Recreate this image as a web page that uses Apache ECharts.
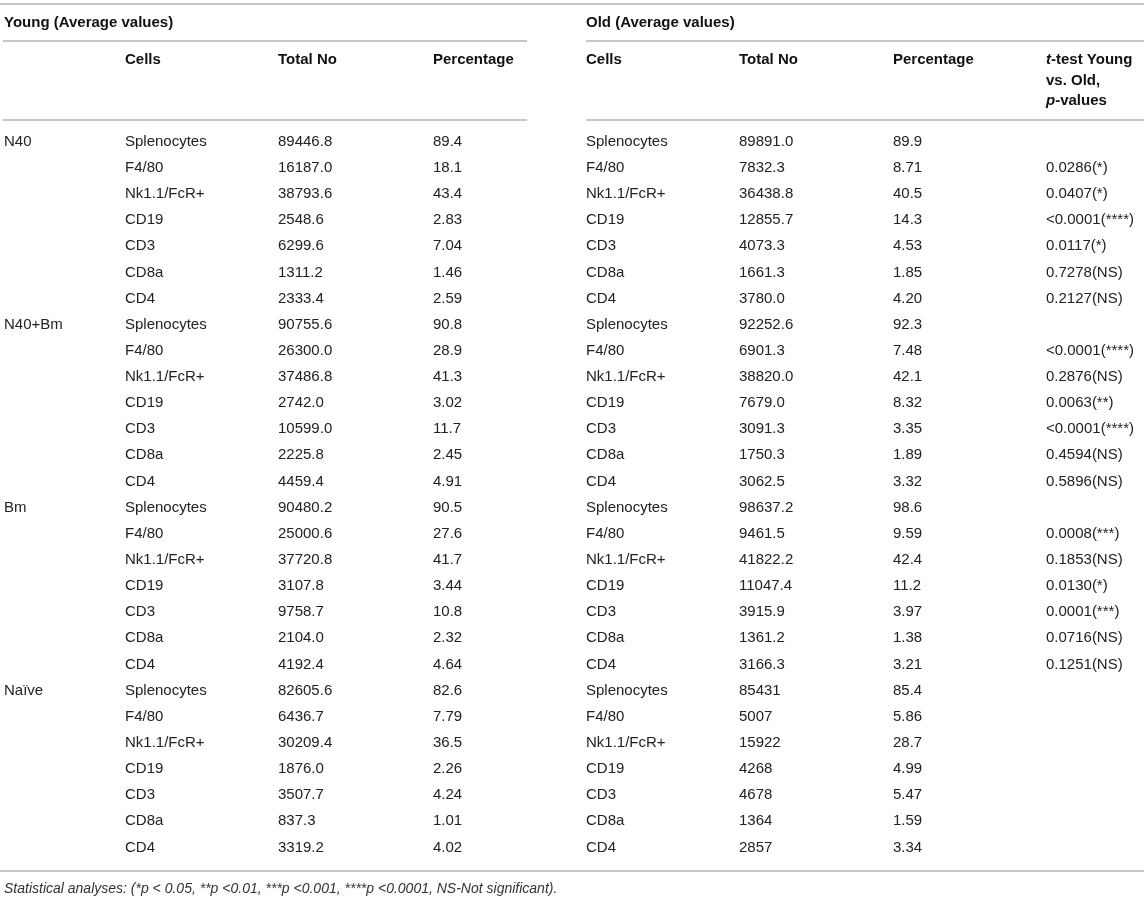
<!DOCTYPE html>
<html lang="en">
  <head>
    <meta charset="UTF-8" />
    <title>Young vs Old splenocyte populations</title>
    <script src="https://cdn.jsdelivr.net/npm/echarts@6/dist/echarts.min.js"></script>
    <style>
      * { margin: 0; padding: 0; box-sizing: border-box; }
      body { background: #fff; overflow: hidden; }
      #chart { width: 1144px; height: 902px; }
    </style>
  </head>
  <body>
    <div id="chart"></div>
    <script>
      // table content
      const groups = ["N40", "N40+Bm", "Bm", "Naïve"];
      const cells = ["Splenocytes", "F4/80", "Nk1.1/FcR+", "CD19", "CD3", "CD8a", "CD4"];

      const youngTotal = [
        "89446.8", "16187.0", "38793.6", "2548.6", "6299.6", "1311.2", "2333.4",
        "90755.6", "26300.0", "37486.8", "2742.0", "10599.0", "2225.8", "4459.4",
        "90480.2", "25000.6", "37720.8", "3107.8", "9758.7", "2104.0", "4192.4",
        "82605.6", "6436.7", "30209.4", "1876.0", "3507.7", "837.3", "3319.2"
      ];
      const youngPct = [
        "89.4", "18.1", "43.4", "2.83", "7.04", "1.46", "2.59",
        "90.8", "28.9", "41.3", "3.02", "11.7", "2.45", "4.91",
        "90.5", "27.6", "41.7", "3.44", "10.8", "2.32", "4.64",
        "82.6", "7.79", "36.5", "2.26", "4.24", "1.01", "4.02"
      ];
      const oldTotal = [
        "89891.0", "7832.3", "36438.8", "12855.7", "4073.3", "1661.3", "3780.0",
        "92252.6", "6901.3", "38820.0", "7679.0", "3091.3", "1750.3", "3062.5",
        "98637.2", "9461.5", "41822.2", "11047.4", "3915.9", "1361.2", "3166.3",
        "85431", "5007", "15922", "4268", "4678", "1364", "2857"
      ];
      const oldPct = [
        "89.9", "8.71", "40.5", "14.3", "4.53", "1.85", "4.20",
        "92.3", "7.48", "42.1", "8.32", "3.35", "1.89", "3.32",
        "98.6", "9.59", "42.4", "11.2", "3.97", "1.38", "3.21",
        "85.4", "5.86", "28.7", "4.99", "5.47", "1.59", "3.34"
      ];
      const pValues = [
        "", "0.0286(*)", "0.0407(*)", "<0.0001(****)", "0.0117(*)", "0.7278(NS)", "0.2127(NS)",
        "", "<0.0001(****)", "0.2876(NS)", "0.0063(**)", "<0.0001(****)", "0.4594(NS)", "0.5896(NS)",
        "", "0.0008(***)", "0.1853(NS)", "0.0130(*)", "0.0001(***)", "0.0716(NS)", "0.1251(NS)",
        "", "", "", "", "", "", ""
      ];

      const footnote = "Statistical analyses: (*p < 0.05, **p <0.01, ***p <0.001, ****p <0.0001, NS-Not significant).";

      // layout: left edge of each column, in px
      const colX = [4, 125, 278, 433, 586, 739, 893, 1046];
      const W = 1144;
      const FONT = "Liberation Sans, Arial, Helvetica, sans-serif";
      const RULE = "#b4b4b4";

      // one item per cell: [x, row, text]
      const rowIds = [];
      const cellData = [];
      groups.forEach((g, gi) => {
        cells.forEach((c, ci) => {
          const r = gi * cells.length + ci;
          rowIds.push(String(r));
          const row = [ci === 0 ? g : "", c, youngTotal[r], youngPct[r], c, oldTotal[r], oldPct[r], pValues[r]];
          row.forEach((txt, col) => {
            if (txt !== "") cellData.push([colX[col], r, txt]);
          });
        });
      });

      function hText(x, y, text, extra) {
        return {
          type: "text",
          x: x,
          y: y,
          silent: true,
          style: Object.assign({
            text: text,
            fill: "#111",
            fontSize: 15,
            fontWeight: "bold",
            fontFamily: FONT,
            verticalAlign: "middle",
            align: "left"
          }, extra || {})
        };
      }

      function rule(x1, x2, y) {
        return {
          type: "line",
          silent: true,
          shape: { x1: x1, y1: y, x2: x2, y2: y },
          style: { stroke: RULE, lineWidth: 1.5 }
        };
      }

      const chart = echarts.init(document.getElementById("chart"), null, { renderer: "canvas" });

      const option = {
        backgroundColor: "#fff",
        animation: false,
        grid: { left: 0, right: 0, top: 128.6, height: 731.9, containLabel: false },
        xAxis: { type: "value", min: 0, max: W, show: false },
        yAxis: { type: "category", data: rowIds, inverse: true, show: false },
        graphic: [
          rule(0, W, 4),
          hText(colX[0], 23, "Young (Average values)"),
          hText(colX[4], 23, "Old (Average values)"),
          rule(3, 527, 41),
          rule(586, W, 41),
          hText(colX[1], 60, "Cells"),
          hText(colX[2], 60, "Total No"),
          hText(colX[3], 60, "Percentage"),
          hText(colX[4], 60, "Cells"),
          hText(colX[5], 60, "Total No"),
          hText(colX[6], 60, "Percentage"),
          hText(colX[7], 60, "{i|t}-test Young", {
            rich: { i: { fontStyle: "italic", fontWeight: "bold", fontSize: 15, fontFamily: FONT, fill: "#111" } }
          }),
          hText(colX[7], 80.5, "vs. Old,"),
          hText(colX[7], 101, "{i|p}-values", {
            rich: { i: { fontStyle: "italic", fontWeight: "bold", fontSize: 15, fontFamily: FONT, fill: "#111" } }
          }),
          rule(3, 527, 120),
          rule(586, W, 120),
          rule(0, W, 871),
          hText(colX[0], 889, footnote, {
            fontWeight: "normal",
            fontStyle: "italic",
            fontSize: 14,
            fill: "#333"
          })
        ],
        series: [
          {
            type: "custom",
            data: cellData,
            encode: { x: 0, y: 1 },
            renderItem: function (params, api) {
              const p = api.coord([api.value(0), api.value(1)]);
              return {
                type: "text",
                x: p[0],
                y: p[1],
                style: {
                  text: api.value(2),
                  fill: "#222",
                  fontSize: 15,
                  fontFamily: FONT,
                  verticalAlign: "middle",
                  align: "left"
                }
              };
            }
          }
        ]
      };

      chart.setOption(option);
    </script>
  </body>
</html>
